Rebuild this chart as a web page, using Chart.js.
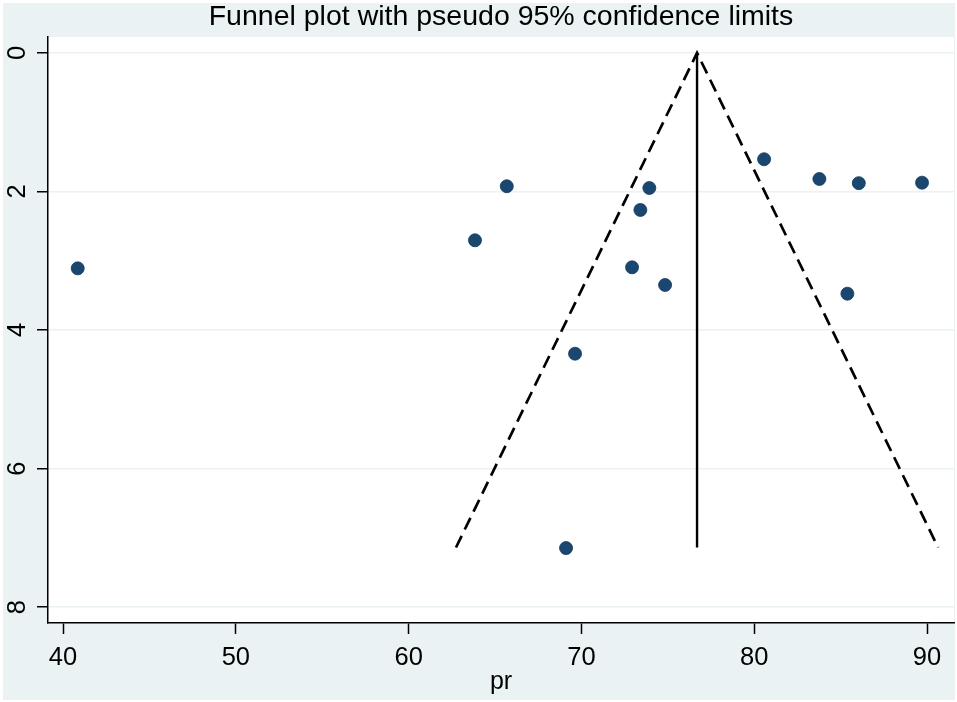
<!DOCTYPE html>
<html>
<head>
<meta charset="utf-8">
<script src="https://cdn.jsdelivr.net/npm/chart.js@4.4.0/dist/chart.umd.min.js"></script>
<style>
html,body{margin:0;padding:0;background:#fff;overflow:hidden;}
canvas{display:block;}
</style>
</head>
<body>
<canvas id="c" width="957" height="702"></canvas>
<script>
// Study estimates (pr) and their standard errors
const prValues = [40.85, 63.84, 65.68, 69.11, 69.63, 72.93, 73.41, 73.93, 74.84, 80.57, 83.77, 86.05, 85.39, 89.71];
const seValues = [3.11, 2.705, 1.925, 7.148, 4.342, 3.095, 2.267, 1.95, 3.35, 1.535, 1.82, 1.88, 3.476, 1.873];
// Pooled estimate line and pseudo 95% confidence limits
const pooledX = [76.69, 76.69];
const pooledY = [0, 7.14];
const limitsX = [62.74, 76.69, 90.64];
const limitsY = [7.14, 0, 7.14];
// Axis ticks
const xTicks = [40, 50, 60, 70, 80, 90];
const yTicks = [0, 2, 4, 6, 8];

const NAVY = 'rgb(26,71,111)';
const BLUISH = 'rgb(234,242,243)';
const FONT = "'Liberation Sans', Arial, Helvetica, sans-serif";

const toPts = (xs, ys) => xs.map((x, i) => ({x: x, y: ys[i]}));

const bgPlugin = {
  id: 'bg',
  beforeDraw(chart) {
    const ctx = chart.ctx, a = chart.chartArea;
    ctx.save();
    ctx.fillStyle = '#fff';
    ctx.fillRect(0, 0, chart.width, chart.height);
    ctx.fillStyle = BLUISH;
    ctx.fillRect(3, 3, chart.width - 5, chart.height - 5);
    ctx.fillStyle = '#fff';
    ctx.fillRect(a.left, a.top, a.right - a.left, a.bottom - a.top);
    ctx.restore();
  }
};

new Chart(document.getElementById('c'), {
  type: 'scatter',
  data: {
    datasets: [
      {
        label: 'studies',
        data: toPts(prValues, seValues),
        backgroundColor: NAVY,
        borderColor: 'rgb(20,56,90)',
        borderWidth: 0.8,
        pointRadius: 6.5,
        order: 1
      },
      {
        label: 'pooled',
        data: toPts(pooledX, pooledY),
        showLine: true,
        borderColor: '#000',
        borderWidth: 2.4,
        pointRadius: 0,
        fill: false,
        order: 2
      },
      {
        label: 'limits',
        data: toPts(limitsX, limitsY),
        showLine: true,
        borderColor: '#000',
        borderWidth: 2.7,
        borderDash: [13, 7],
        pointRadius: 0,
        fill: false,
        tension: 0,
        order: 3
      }
    ]
  },
  options: {
    responsive: false,
    animation: false,
    devicePixelRatio: 1,
    layout: {autoPadding: false, padding: {left: 0, right: 3, top: 0, bottom: 0}},
    plugins: {
      legend: {display: false},
      tooltip: {enabled: false},
      title: {
        display: true,
        fullSize: false,
        text: 'Funnel plot with pseudo 95% confidence limits',
        color: '#000',
        font: {family: FONT, size: 28.5, weight: 'normal', lineHeight: 1},
        padding: {top: 2.5, bottom: 6}
      }
    },
    scales: {
      x: {
        type: 'linear',
        min: 39.13,
        max: 91.56,
        afterBuildTicks(s) { s.ticks = xTicks.map(v => ({value: v})); },
        afterFit(s) { s.height = 79; },
        border: {display: true, color: '#000', width: 1.5},
        grid: {display: true, drawOnChartArea: false, drawTicks: true, tickLength: 11, tickColor: '#000', tickWidth: 1.5},
        ticks: {color: '#000', font: {family: FONT, size: 25.5}, padding: 9, maxRotation: 0, autoSkip: false},
        title: {display: true, text: 'pr', color: '#000', font: {family: FONT, size: 25}, padding: {top: 0, bottom: 5}}
      },
      y: {
        type: 'linear',
        reverse: true,
        min: -0.23,
        max: 8.23,
        afterBuildTicks(s) { s.ticks = yTicks.map(v => ({value: v})); },
        afterFit(s) { s.width = 48; },
        border: {display: true, color: '#000', width: 1.5},
        grid: {display: true, drawOnChartArea: true, color: BLUISH, lineWidth: 1.5, drawTicks: true, tickLength: 11, tickColor: '#000', tickWidth: 1.5},
        ticks: {color: '#000', font: {family: FONT, size: 25.5}, padding: 11.5, minRotation: 90, maxRotation: 90, crossAlign: 'center', autoSkip: false}
      }
    }
  },
  plugins: [bgPlugin]
});
</script>
</body>
</html>
